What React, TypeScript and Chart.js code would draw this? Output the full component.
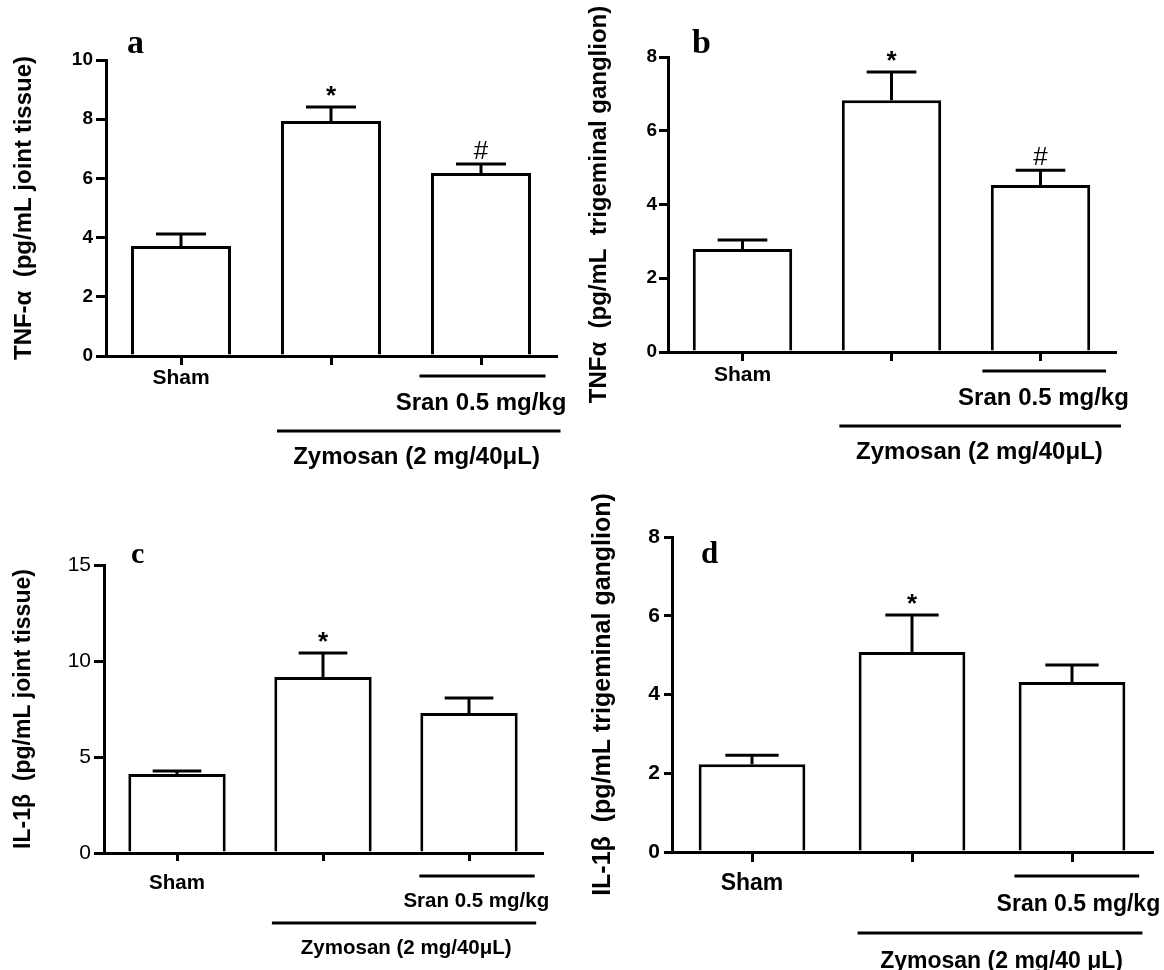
import React, { useEffect, useRef } from 'react';
import { Chart, registerables } from 'chart.js';

Chart.register(...registerables);

// ---------- data ----------
const groupNames = ['Sham', 'Zymosan', 'Zymosan + Sran 0.5 mg/kg'];
const tickLabels = ['Sham', '', ''];

const tnfJointMeans = [3.72, 7.94, 6.18];
const tnfJointSem = [0.4, 0.47, 0.31];
const tnfJointMarks = ['', '*', '#'];

const tnfGanglionMeans = [2.79, 6.83, 4.53];
const tnfGanglionSem = [0.25, 0.76, 0.4];
const tnfGanglionMarks = ['', '*', '#'];

const il1JointMeans = [4.11, 9.17, 7.29];
const il1JointSem = [0.16, 1.25, 0.78];
const il1JointMarks = ['', '*', ''];

const il1GanglionMeans = [2.23, 5.08, 4.32];
const il1GanglionSem = [0.23, 0.94, 0.43];
const il1GanglionMarks = ['', '*', ''];

const yMaxes = [10, 8, 15, 8];
const ySteps = [2, 2, 5, 2];
const yTitles = [
  'TNF-\u03b1  (pg/mL joint tissue)',
  'TNF\u03b1  (pg/mL  trigeminal ganglion)',
  'IL-1\u03b2  (pg/mL joint tissue)',
  'IL-1\u03b2  (pg/mL trigeminal ganglion)',
];
const panelLetters = ['a', 'b', 'c', 'd'];
const sranLabel = 'Sran 0.5 mg/kg';
const zymosanLabels = [
  'Zymosan (2 mg/40\u03bcL)',
  'Zymosan (2 mg/40\u03bcL)',
  'Zymosan (2 mg/40\u03bcL)',
  'Zymosan (2 mg/40 \u03bcL)',
];

// ---------- layout / style ----------
type Layout = {
  left: number; top: number; w: number; h: number;
  area: { l: number; t: number; r: number; b: number };
  yTick: number; yPad: number; yFont: number; yWeight: string;
  titleFont: number; titlePad: number;
  xTick: number; shamFont: number; xPad: number;
  sranSpan: [number, number]; sranLineDy: number; sranTextDx: number; sranTextDy: number; sranFont: number;
  zymSpan: [number, number]; zymLineDy: number; zymTextDx: number; zymTextDy: number; zymFont: number;
  letterDx: number; letterBaseDy: number; letterFont: number;
  lw: number;
};

const layouts: Layout[] = [
  {
    left: 0, top: 0, w: 582, h: 485,
    area: { l: 106, t: 60, r: 556, b: 356 },
    yTick: 10, yPad: 3, yFont: 19, yWeight: 'bold',
    titleFont: 24, titlePad: 9.6,
    xTick: 9, shamFont: 21, xPad: 0.4,
    sranSpan: [-0.41, 0.43], sranLineDy: 20, sranTextDx: 0, sranTextDy: 47, sranFont: 24,
    zymSpan: [-0.36, 0.53], zymLineDy: 75, zymTextDx: 0.07, zymTextDy: 101, zymFont: 24,
    letterDx: 21, letterBaseDy: -7, letterFont: 34,
    lw: 3,
  },
  {
    left: 582, top: 0, w: 582, h: 485,
    area: { l: 86, t: 57, r: 533, b: 352 },
    yTick: 9, yPad: 2, yFont: 19, yWeight: 'bold',
    titleFont: 24, titlePad: 2.6,
    xTick: 9, shamFont: 21, xPad: 1.4,
    sranSpan: [-0.39, 0.44], sranLineDy: 19, sranTextDx: 0.02, sranTextDy: 46, sranFont: 24,
    zymSpan: [-0.35, 0.54], zymLineDy: 74, zymTextDx: 0.09, zymTextDy: 100, zymFont: 24,
    letterDx: 24, letterBaseDy: -4, letterFont: 34,
    lw: 3,
  },
  {
    left: 0, top: 485, w: 582, h: 485,
    area: { l: 104, t: 80, r: 542, b: 368 },
    yTick: 10, yPad: 3, yFont: 21, yWeight: 'normal',
    titleFont: 23, titlePad: 10.2,
    xTick: 8, shamFont: 20.5, xPad: 9.7,
    sranSpan: [-0.34, 0.45], sranLineDy: 23, sranTextDx: 0.05, sranTextDy: 48, sranFont: 20.5,
    zymSpan: [-0.35, 0.46], zymLineDy: 70, zymTextDx: 0.07, zymTextDy: 95, zymFont: 20.5,
    letterDx: 27, letterBaseDy: -2, letterFont: 30,
    lw: 3,
  },
  {
    left: 582, top: 485, w: 582, h: 485,
    area: { l: 90, t: 52, r: 570, b: 367 },
    yTick: 8, yPad: 4, yFont: 21, yWeight: 'bold',
    titleFont: 25, titlePad: 6,
    xTick: 10, shamFont: 23, xPad: 8.2,
    sranSpan: [-0.36, 0.42], sranLineDy: 24, sranTextDx: 0.04, sranTextDy: 53, sranFont: 23,
    zymSpan: [-0.34, 0.44], zymLineDy: 81, zymTextDx: 0.06, zymTextDy: 110, zymFont: 23,
    letterDx: 29, letterBaseDy: 26, letterFont: 31,
    lw: 3,
  },
];

const panelData = [
  { means: tnfJointMeans, sem: tnfJointSem, marks: tnfJointMarks },
  { means: tnfGanglionMeans, sem: tnfGanglionSem, marks: tnfGanglionMarks },
  { means: il1JointMeans, sem: il1JointSem, marks: il1JointMarks },
  { means: il1GanglionMeans, sem: il1GanglionSem, marks: il1GanglionMarks },
];

const SANS = '"Liberation Sans", Arial, sans-serif';
const SERIF = '"Liberation Serif", "Times New Roman", serif';

function Panel({ index }: { index: number }) {
  const ref = useRef<HTMLCanvasElement>(null);
  useEffect(() => {
    const L = layouts[index];
    const D = panelData[index];
    const canvas = ref.current!;
    const area = L.area;

    const extras = {
      id: 'extras' + index,
      afterDraw(chart: any) {
        const ctx = chart.ctx as CanvasRenderingContext2D;
        const xs = chart.scales.x;
        const ys = chart.scales.y;
        const meta = chart.getDatasetMeta(0);
        ctx.save();
        ctx.strokeStyle = '#000';
        ctx.fillStyle = '#000';
        ctx.lineWidth = L.lw;
        ctx.lineCap = 'butt';
        meta.data.forEach((bar: any, i: number) => {
          const x = bar.x;
          const y = bar.y;
          const w = bar.width;
          const yt = ys.getPixelForValue(D.means[i] + D.sem[i]);
          ctx.beginPath();
          ctx.moveTo(x, y);
          ctx.lineTo(x, yt);
          ctx.moveTo(x - w / 4, yt);
          ctx.lineTo(x + w / 4, yt);
          ctx.stroke();
          const m = D.marks[i];
          if (m) {
            ctx.textAlign = 'center';
            ctx.textBaseline = 'alphabetic';
            if (m === '*') {
              ctx.font = `bold 26px ${SANS}`;
              ctx.fillText(m, x, yt - 3);
            } else {
              ctx.font = `26px ${SANS}`;
              ctx.fillText(m, x, yt - 5);
            }
          }
        });
        const c2 = xs.getPixelForValue(1);
        const c3 = xs.getPixelForValue(2);
        const step = c3 - c2;
        const bottom = chart.chartArea.bottom;
        // Sran line + label
        ctx.beginPath();
        ctx.moveTo(c3 + L.sranSpan[0] * step, bottom + L.sranLineDy);
        ctx.lineTo(c3 + L.sranSpan[1] * step, bottom + L.sranLineDy);
        ctx.stroke();
        ctx.font = `bold ${L.sranFont}px ${SANS}`;
        ctx.textAlign = 'center';
        ctx.textBaseline = 'middle';
        ctx.fillText(sranLabel, c3 + L.sranTextDx * step, bottom + L.sranTextDy);
        // Zymosan line + label
        ctx.beginPath();
        ctx.moveTo(c2 + L.zymSpan[0] * step, bottom + L.zymLineDy);
        ctx.lineTo(c3 + L.zymSpan[1] * step, bottom + L.zymLineDy);
        ctx.stroke();
        ctx.font = `bold ${L.zymFont}px ${SANS}`;
        ctx.fillText(zymosanLabels[index], (c2 + c3) / 2 + L.zymTextDx * step, bottom + L.zymTextDy);
        // panel letter
        ctx.font = `bold ${L.letterFont}px ${SERIF}`;
        ctx.textAlign = 'left';
        ctx.textBaseline = 'alphabetic';
        ctx.fillText(panelLetters[index], chart.chartArea.left + L.letterDx, chart.chartArea.top + L.letterBaseDy);
        ctx.restore();
      },
    };

    const chart = new Chart(canvas, {
      type: 'bar',
      data: {
        labels: tickLabels,
        datasets: [
          {
            label: groupNames.join(' / '),
            data: D.means,
            backgroundColor: '#ffffff',
            borderColor: '#000000',
            borderWidth: L.lw,
            borderSkipped: 'bottom',
            categoryPercentage: 1,
            barPercentage: 0.667,
          },
        ],
      },
      options: {
        responsive: false,
        animation: false,
        devicePixelRatio: 1,
        layout: { padding: { left: 0, top: area.t, right: L.w - area.r, bottom: 0 } },
        plugins: { legend: { display: false }, tooltip: { enabled: false } },
        scales: {
          x: {
            type: 'category',
            offset: true,
            z: 1,
            grid: {
              display: true,
              drawOnChartArea: false,
              drawTicks: true,
              tickLength: L.xTick,
              offset: false,
              color: '#000',
              lineWidth: L.lw,
            },
            border: { display: true, color: '#000', width: L.lw },
            ticks: {
              color: '#000',
              font: { family: SANS, size: L.shamFont, weight: 'bold' },
              padding: L.xPad,
              maxRotation: 0,
              autoSkip: false,
            },
            afterFit: (s: any) => {
              s.height = L.h - area.b;
            },
          },
          y: {
            min: 0,
            max: yMaxes[index],
            z: 1,
            ticks: {
              stepSize: ySteps[index],
              color: '#000',
              font: { family: SANS, size: L.yFont, weight: L.yWeight as any },
              padding: L.yPad,
            },
            grid: {
              drawOnChartArea: false,
              drawTicks: true,
              tickLength: L.yTick,
              color: '#000',
              lineWidth: L.lw,
            },
            border: { display: true, color: '#000', width: L.lw },
            title: {
              display: true,
              text: yTitles[index],
              color: '#000',
              font: { family: SANS, size: L.titleFont, weight: 'bold' },
              padding: { top: L.titlePad, bottom: 0 },
            },
            afterFit: (s: any) => {
              s.width = area.l;
            },
          },
        },
      } as any,
      plugins: [extras],
    });
    return () => chart.destroy();
  }, [index]);

  const L = layouts[index];
  return (
    <canvas
      ref={ref}
      width={L.w}
      height={L.h}
      style={{ position: 'absolute', left: L.left, top: L.top, width: L.w, height: L.h }}
    />
  );
}

export default function App() {
  return (
    <div
      style={{
        position: 'absolute',
        left: 0,
        top: 0,
        width: 1164,
        height: 970,
        background: '#ffffff',
        overflow: 'hidden',
      }}
    >
      {[0, 1, 2, 3].map((i) => (
        <Panel key={i} index={i} />
      ))}
    </div>
  );
}
